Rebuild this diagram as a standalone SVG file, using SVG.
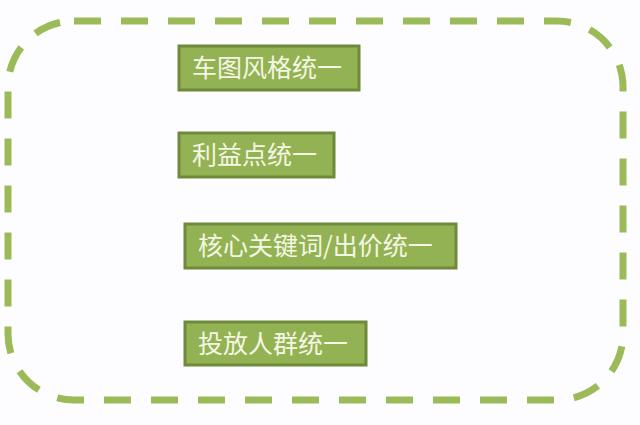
<svg xmlns="http://www.w3.org/2000/svg" width="640" height="425" viewBox="0 0 640 425">
<defs>
<style>
.frame{fill:none;stroke:#9bbb59;stroke-width:7;stroke-dasharray:27 20;stroke-linecap:butt}
.box{fill:#93b254;stroke:#6e8a3a;stroke-width:3}
.lbl{fill:#f4f7e2;font-family:"Noto Sans CJK SC","Liberation Sans",sans-serif;font-size:25px}
</style>
</defs>
<rect width="640" height="425" fill="#fdfcfe"/>
<g id="frame">
<rect class="frame" x="8" y="21" width="615" height="379" rx="66" ry="66"/>
</g>
<g id="connectors"></g>
<g id="n1">
<rect class="box" x="179" y="46" width="180" height="44"/>
<text class="lbl" x="192" y="77">车图风格统一</text>
</g>
<g id="n2">
<rect class="box" x="179" y="133" width="155" height="44"/>
<text class="lbl" x="192" y="164">利益点统一</text>
</g>
<g id="n3">
<rect class="box" x="185" y="224" width="271" height="44"/>
<text class="lbl" x="198" y="255">核心关键词/出价统一</text>
</g>
<g id="n4">
<rect class="box" x="185" y="322" width="181" height="43"/>
<text class="lbl" x="198" y="353">投放人群统一</text>
</g>
</svg>
